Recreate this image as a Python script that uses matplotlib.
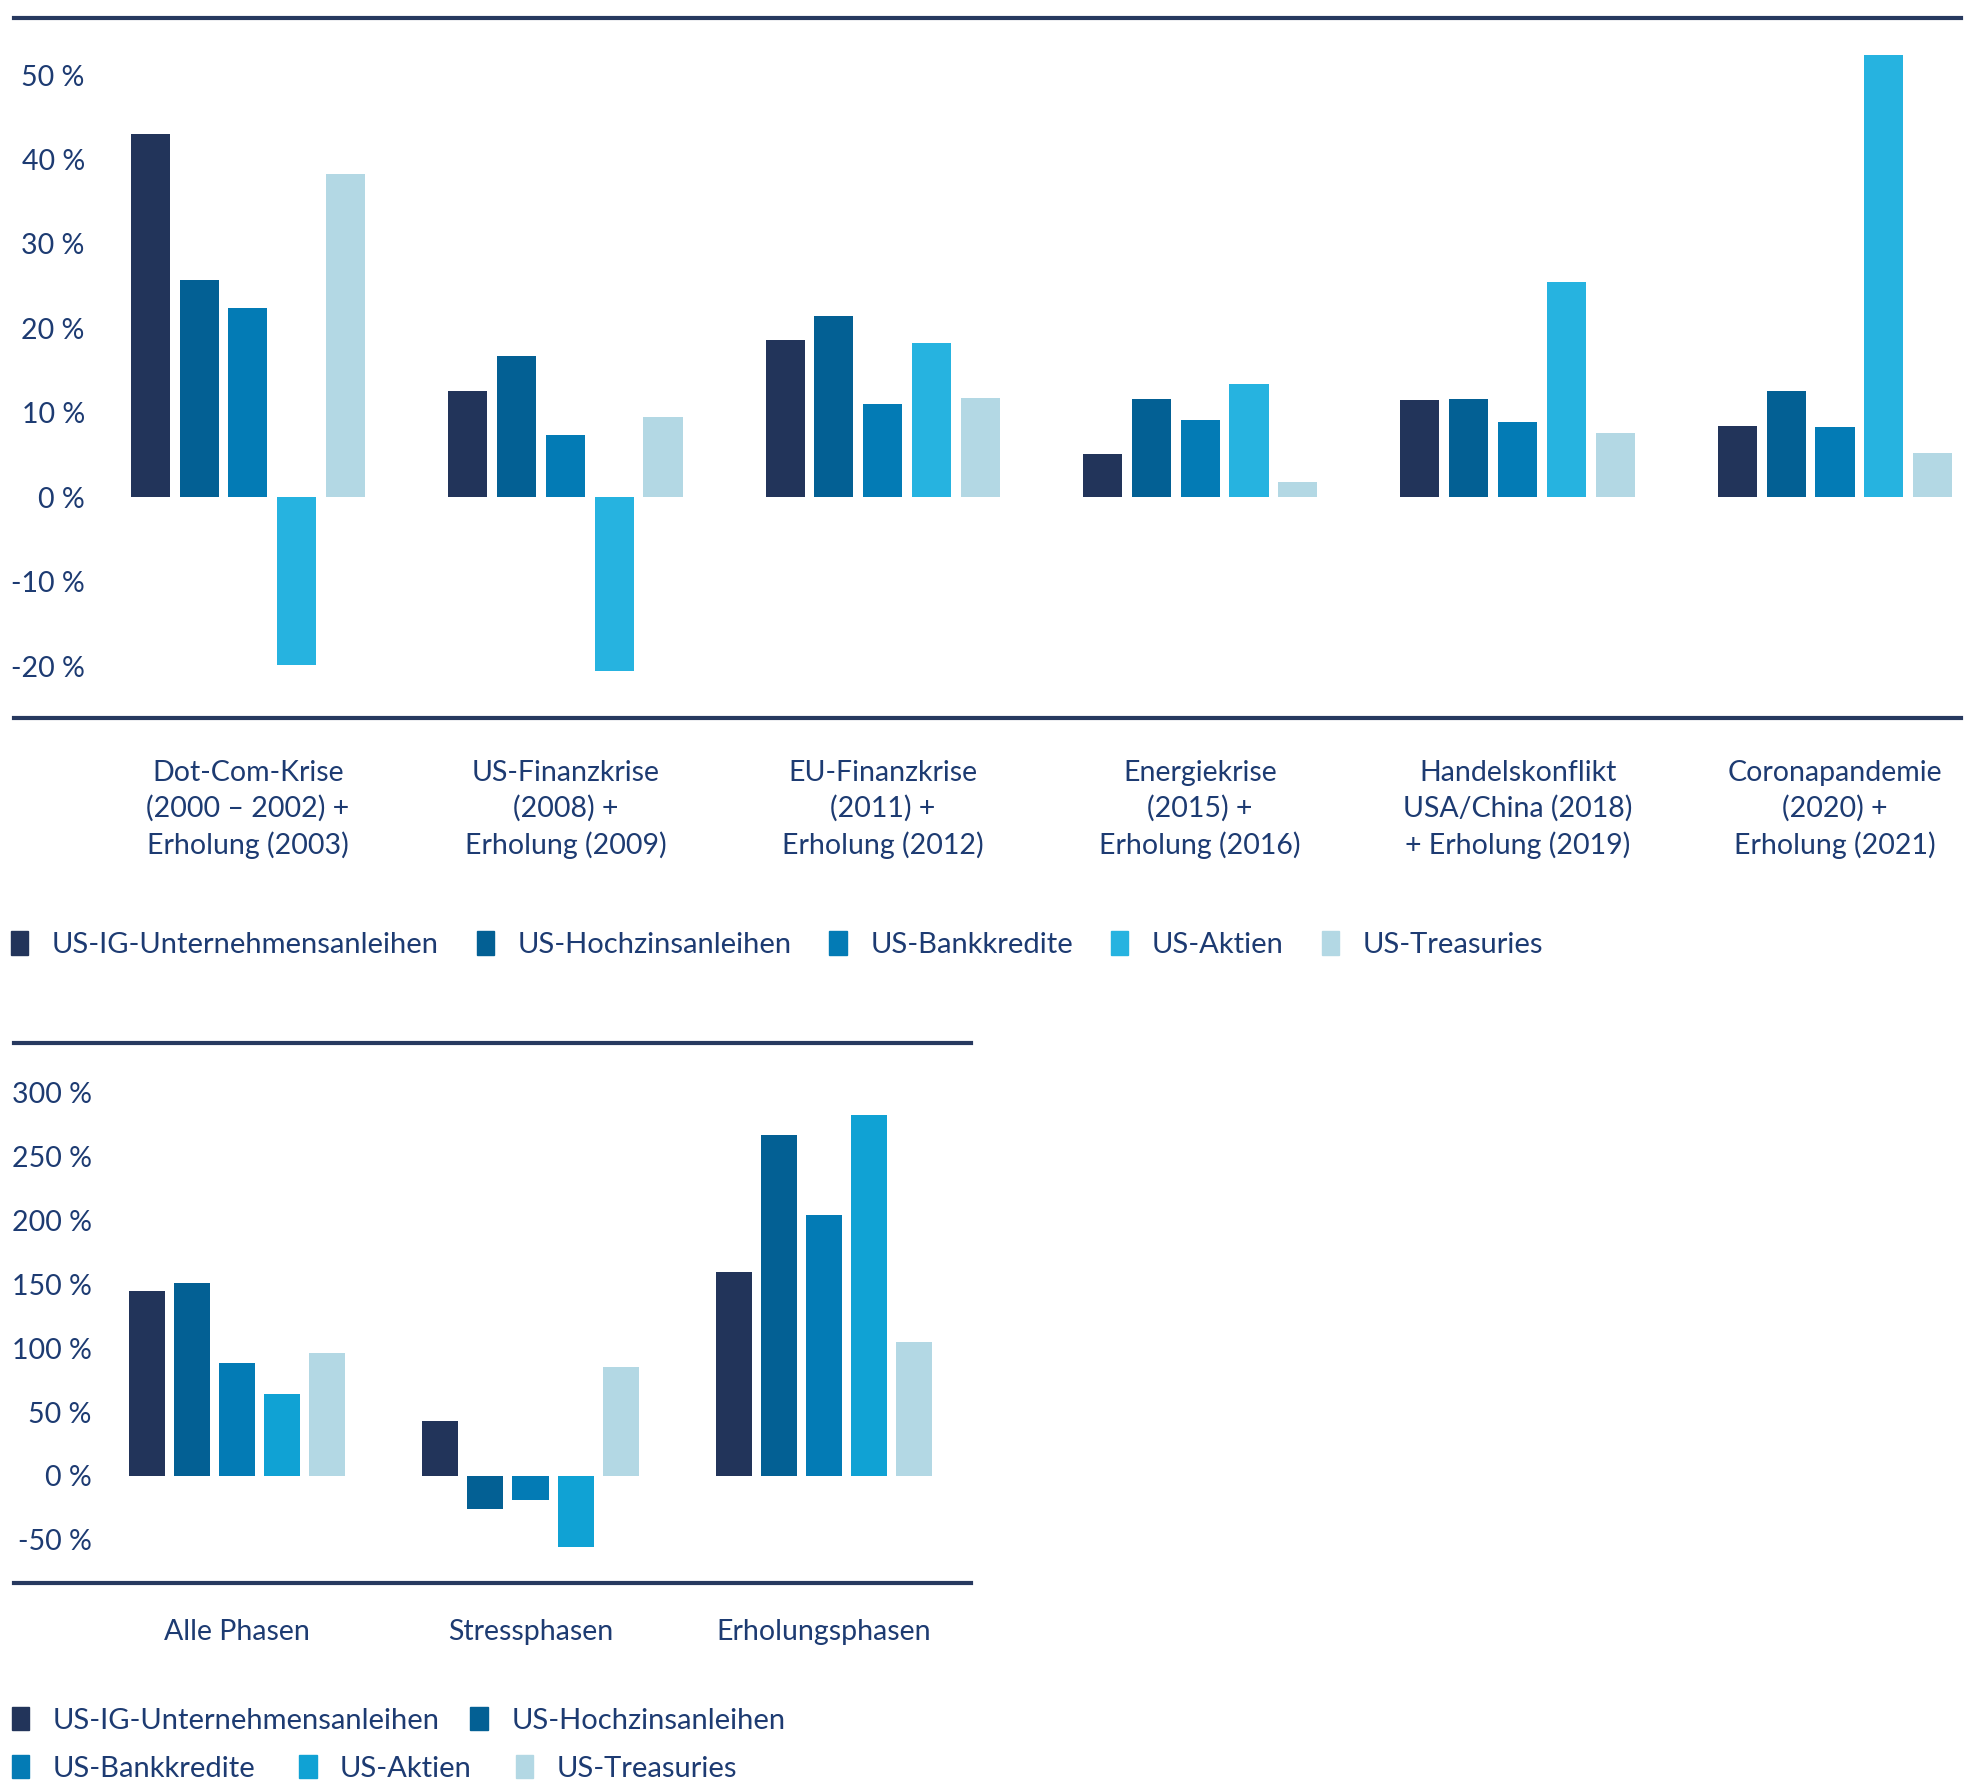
import numpy as np
import matplotlib.pyplot as plt
from matplotlib.patches import Patch

plt.rcParams['font.family'] = ['Lato', 'DejaVu Sans']

# data
series = ['US-IG-Unternehmensanleihen', 'US-Hochzinsanleihen', 'US-Bankkredite',
          'US-Aktien', 'US-Treasuries']

crises = ['Dot-Com-Krise\n(2000 – 2002) +\nErholung (2003)',
          'US-Finanzkrise\n(2008) +\nErholung (2009)',
          'EU-Finanzkrise\n(2011) +\nErholung (2012)',
          'Energiekrise\n(2015) +\nErholung (2016)',
          'Handelskonflikt\nUSA/China (2018)\n+ Erholung (2019)',
          'Coronapandemie\n(2020) +\nErholung (2021)']
ig_crisis = [43.0, 12.6, 18.6, 5.2, 11.5, 8.5]
hy_crisis = [25.7, 16.7, 21.5, 11.7, 11.7, 12.6]
bank_crisis = [22.4, 7.4, 11.1, 9.2, 8.9, 8.3]
equity_crisis = [-19.8, -20.5, 18.3, 13.4, 25.5, 52.4]
treas_crisis = [38.3, 9.5, 11.8, 1.8, 7.6, 5.3]
ticks_top = [-20, -10, 0, 10, 20, 30, 40, 50]

phases = ['Alle Phasen', 'Stressphasen', 'Erholungsphasen']
ig_phase = [144.5, 43, 160]
hy_phase = [151, -26, 267]
bank_phase = [88.5, -19, 204.5]
equity_phase = [64, -56, 282.5]
treas_phase = [96, 85, 105]
ticks_bottom = [-50, 0, 50, 100, 150, 200, 250, 300]

colors_top = ['#22345a', '#036094', '#037bb5', '#26b3e0', '#b3d8e4']
colors_bottom = ['#22345a', '#036094', '#037bb5', '#10a2d4', '#b3d8e4']
text_col = '#1d3b72'
line_col = '#27395f'
fs = 20.5

fig = plt.figure(figsize=(19.75, 17.91), dpi=100)


def bar_panel(ax, values, labels, colors, ticks, ylim, xlim):
    n = len(labels)
    centers = np.arange(n) * 6.5
    for j, vals in enumerate(values):
        ax.bar(centers + (j - 2), vals, width=0.8, color=colors[j], zorder=2)
    ax.set_xlim(*xlim)
    ax.set_ylim(*ylim)
    for s in ['left', 'right']:
        ax.spines[s].set_visible(False)
    for s in ['top', 'bottom']:
        ax.spines[s].set_color(line_col)
        ax.spines[s].set_linewidth(3)
    ax.set_yticks(ticks)
    ax.set_yticklabels([f'{t} %' for t in ticks], color=text_col, fontsize=fs)
    ax.tick_params(axis='y', length=0, pad=-51)
    ax.set_xticks(centers)
    ax.set_xticklabels(labels, color=text_col, fontsize=fs, linespacing=1.43)
    ax.tick_params(axis='x', length=0, pad=30)
    return centers


ax1 = fig.add_axes([0.0071, 0.5991, 0.9858, 0.3911])
bar_panel(ax1, [ig_crisis, hy_crisis, bank_crisis, equity_crisis, treas_crisis],
          crises, colors_top, ticks_top, (-26.1, 56.8), (-4.79, 35.08))

ax2 = fig.add_axes([0.0071, 0.1161, 0.4846, 0.3015])
bar_panel(ax2, [ig_phase, hy_phase, bank_phase, equity_phase, treas_phase],
          phases, colors_bottom, ticks_bottom, (-84, 339), (-4.94, 16.26))
ax2.tick_params(axis='y', pad=-56)
ax2.tick_params(axis='x', pad=26)

leg_kw = dict(frameon=False, fontsize=21, labelcolor=text_col,
              handlelength=0.6, handleheight=0.85, handletextpad=0.8,
              borderaxespad=0, borderpad=0)

handles_top = [Patch(color=c) for c in colors_top]
fig.legend(handles_top, series, loc='center left', bbox_to_anchor=(0.0055, 0.4725),
           ncol=5, columnspacing=1.3, **leg_kw)

handles_bottom = [Patch(color=c) for c in colors_bottom]
fig.legend(handles_bottom[:2], series[:2], loc='center left', bbox_to_anchor=(0.006, 0.0395),
           ncol=2, columnspacing=1.05, **leg_kw)
fig.legend(handles_bottom[2:], series[2:], loc='center left', bbox_to_anchor=(0.006, 0.0127),
           ncol=3, columnspacing=1.5, **leg_kw)

fig.savefig('out.png', dpi=100, facecolor='white')
